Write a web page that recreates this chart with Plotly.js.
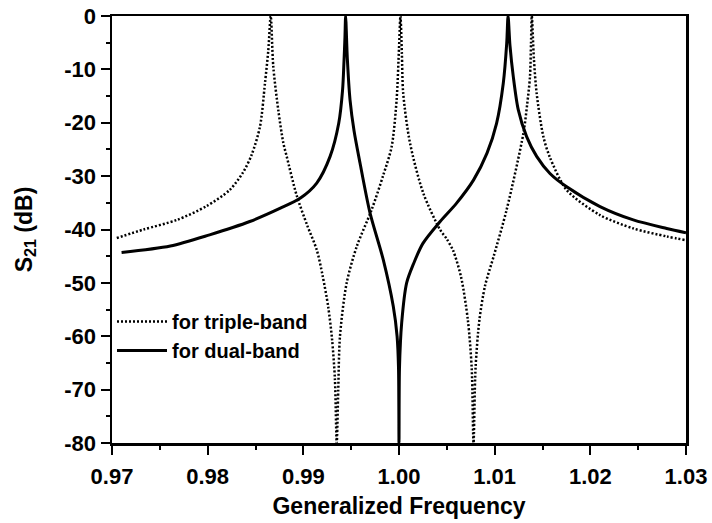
<!DOCTYPE html>
<html>
<head>
<meta charset="utf-8">
<script src="https://cdn.plot.ly/plotly-3.0.1.min.js"></script>
<style>
html,body{margin:0;padding:0;background:#fff;}
#chart{width:712px;height:523px;}
</style>
</head>
<body>
<div id="chart"></div>
<script>
// Dual-band response (solid)
var dualFreq = [0.9710, 0.9761, 0.9802, 0.9844, 0.9876, 0.9897, 0.9914, 0.9928, 0.9937, 0.9941, 0.99425, 0.99435, 0.99442,
  0.99460, 0.99488, 0.99530, 0.99592, 0.99697, 0.99836, 0.99940, 0.99980, 0.99995, 1.00000,
  1.00005, 1.00028, 1.00080, 1.00150, 1.00250, 1.00430, 1.00600, 1.00780, 1.00920, 1.01020, 1.01090, 1.01126, 1.01140,
  1.01160, 1.01195, 1.01247, 1.01334, 1.01439, 1.01578, 1.01753, 1.02101, 1.02449, 1.02798, 1.03000];
var dualS21 = [-44.3, -43.1, -41.0, -38.5, -36.0, -34.1, -31.3, -26.3, -20.1, -13.9, -8.5, -4.0, 0,
  -8.0, -15.7, -21.5, -27.5, -36.9, -45.7, -54.4, -60.0, -66.0, -80.0,
  -66.0, -57.5, -50.0, -46.5, -42.6, -38.5, -35.1, -30.7, -25.7, -20.1, -12.6, -5.1, 0,
  -5.5, -11.4, -17.6, -22.6, -26.3, -29.5, -32.0, -35.7, -38.2, -39.8, -40.6];

// Triple-band response (dotted)
var tripleFreq = [0.9705, 0.9733, 0.9768, 0.9799, 0.9823, 0.9837, 0.9846, 0.98547, 0.98599, 0.98634, 0.98659,
  0.98686, 0.98738, 0.98791, 0.98826, 0.98930, 0.99040, 0.99140, 0.99200, 0.99260, 0.99300, 0.99330, 0.99349,
  0.99365, 0.99383, 0.99453, 0.99558, 0.99714, 0.99836, 0.99923, 0.99975, 1.00000, 1.00015,
  1.00030, 1.00044, 1.00115, 1.00254, 1.00428, 1.00500, 1.00567, 1.00650, 1.00720, 1.00760, 1.00779,
  1.00800, 1.00840, 1.00900, 1.00990, 1.01125, 1.01300, 1.01340, 1.01369, 1.01380, 1.01388,
  1.01410, 1.01439, 1.01509, 1.01578, 1.01753, 1.02101, 1.02449, 1.02798, 1.03000];
var tripleS21 = [-41.6, -40.0, -38.2, -35.6, -32.6, -29.3, -26.0, -20.7, -12.6, -6.4, 0,
  -9.5, -17.6, -23.8, -26.3, -33.6, -39.2, -43.8, -48.5, -54.5, -60.5, -68.0, -80.0,
  -70.0, -60.0, -50.0, -43.2, -36.3, -29.8, -24.5, -15.7, -6.0, 0,
  -7.0, -14.5, -23.8, -33.2, -40.0, -41.8, -44.0, -49.0, -57.0, -66.0, -80.0,
  -66.0, -57.0, -50.5, -45.0, -36.3, -22.0, -16.5, -11.4, -5.0, 0,
  -8.0, -14.5, -22.6, -26.5, -32.6, -37.3, -39.8, -41.3, -42.0];

var xTickVals = [0.97, 0.98, 0.99, 1.00, 1.01, 1.02, 1.03];
var xTickText = ['0.97', '0.98', '0.99', '1.00', '1.01', '1.02', '1.03'];
var yTickVals = [0, -10, -20, -30, -40, -50, -60, -70, -80];
var yTickText = ['0', '-10', '-20', '-30', '-40', '-50', '-60', '-70', '-80'];

var FONT = 'Liberation Sans, Arial, Helvetica, sans-serif';

var traces = [
  {
    x: tripleFreq, y: tripleS21, type: 'scatter', mode: 'lines',
    name: 'for triple-band',
    line: {color: '#000', width: 2.5, dash: '2px,2px', shape: 'spline', smoothing: 0.8}
  },
  {
    x: dualFreq, y: dualS21, type: 'scatter', mode: 'lines',
    name: 'for dual-band',
    line: {color: '#000', width: 3, shape: 'spline', smoothing: 0.8}
  }
];

var axisCommon = {
  showline: true, linecolor: '#000', linewidth: 2.5, mirror: true,
  showgrid: false, zeroline: false,
  ticks: 'outside', ticklen: 9, tickwidth: 2, tickcolor: '#000',
  tickfont: {family: FONT, size: 22, color: '#000', weight: 'bold'}
};

var layout = {
  width: 712, height: 523,
  margin: {l: 112, r: 26, t: 16, b: 80},
  paper_bgcolor: '#fff', plot_bgcolor: '#fff',
  showlegend: true,
  legend: {
    x: 0.0, y: 0.33, xanchor: 'left', yanchor: 'top',
    bgcolor: 'rgba(0,0,0,0)', borderwidth: 0,
    itemwidth: 50, tracegroupgap: 0,
    font: {family: FONT, size: 20, color: '#000', weight: 'bold'}
  },
  xaxis: Object.assign({}, axisCommon, {
    range: [0.97, 1.03],
    tickmode: 'array', tickvals: xTickVals, ticktext: xTickText,
    ticklabelstandoff: 3,
    minor: {dtick: 0.005, tick0: 0.97, ticks: 'outside', ticklen: 4, tickwidth: 2, tickcolor: '#000'},
    title: {text: 'Generalized Frequency', standoff: 10,
      font: {family: FONT, size: 23, color: '#000', weight: 'bold'}}
  }),
  yaxis: Object.assign({}, axisCommon, {
    range: [-80, 0],
    tickmode: 'array', tickvals: yTickVals, ticktext: yTickText,
    minor: {dtick: 5, tick0: 0, ticks: 'outside', ticklen: 4, tickwidth: 2, tickcolor: '#000'},
    title: {text: 'S<sub>21</sub> (dB)', standoff: 26,
      font: {family: FONT, size: 23, color: '#000', weight: 'bold'}}
  })
};

Plotly.newPlot('chart', traces, layout, {staticPlot: true, displayModeBar: false});
</script>
</body>
</html>
